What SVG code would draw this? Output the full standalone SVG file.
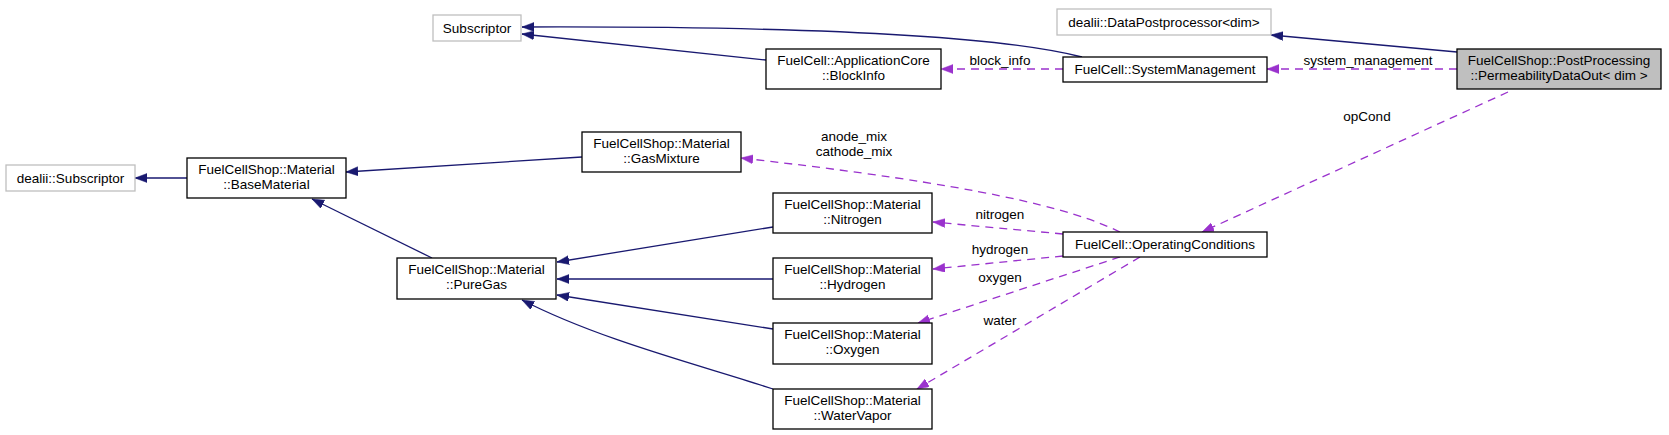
<svg xmlns="http://www.w3.org/2000/svg" width="1669" height="435" viewBox="0 0 1669 435">
<style>
  text { font-family: "Liberation Sans", Arial, sans-serif; font-size: 13.5px; fill: #000; text-anchor: middle; }
  .node rect { fill: #fff; stroke: #000; stroke-width: 1.3; }
  .node.ext rect { stroke: #bfbfbf; }
  .node.main rect { fill: #bfbfbf; }
  .inh { fill: none; stroke: #191970; stroke-width: 1.3; marker-end: url(#ab); }
  .use { fill: none; stroke: #9a32cd; stroke-width: 1.3; stroke-dasharray: 8,6; marker-end: url(#ap); }
</style>
<defs>
  <marker id="ab" markerUnits="userSpaceOnUse" markerWidth="13" markerHeight="10" refX="12" refY="4.5" orient="auto">
    <path d="M0,0 L12,4.5 L0,9 z" fill="#191970" stroke="#191970" stroke-width="0.5"/>
  </marker>
  <marker id="ap" markerUnits="userSpaceOnUse" markerWidth="13" markerHeight="10" refX="12" refY="4.5" orient="auto">
    <path d="M0,0 L12,4.5 L0,9 z" fill="#9a32cd" stroke="#9a32cd" stroke-width="0.5"/>
  </marker>
</defs>
<rect x="0" y="0" width="1669" height="435" fill="#fff"/>

<g id="edges">
  <path class="inh" d="M1082,57 C1000,36 820,26 522,27"/>
  <path class="inh" d="M766,60 L522,34"/>
  <path class="inh" d="M1457,52 L1271,35"/>
  <path class="inh" d="M187,178 L135,178"/>
  <path class="inh" d="M582,157 L346,172"/>
  <path class="inh" d="M432,258 L312,199"/>
  <path class="inh" d="M773,227 L557,262"/>
  <path class="inh" d="M773,279 L557,279"/>
  <path class="inh" d="M773,329 L557,295"/>
  <path class="inh" d="M773,389 C700,365 600,340 522,300"/>

  <path class="use" d="M1063,69 L941,69"/>
  <text x="1000" y="65">block_info</text>
  <path class="use" d="M1457,69 L1267,69"/>
  <text x="1368" y="65">system_management</text>
  <path class="use" d="M1508,92 L1202,232"/>
  <text x="1367" y="121">opCond</text>
  <path class="use" d="M1120,232 C1070,208 980,185 741,158"/>
  <text x="854" y="140.5">anode_mix</text>
  <text x="854" y="155.5">cathode_mix</text>
  <path class="use" d="M1063,234 L933,222"/>
  <text x="1000" y="219">nitrogen</text>
  <path class="use" d="M1063,256 L933,269"/>
  <text x="1000" y="254">hydrogen</text>
  <path class="use" d="M1120,257 L918,323"/>
  <text x="1000" y="282">oxygen</text>
  <path class="use" d="M1140,257 L917,389"/>
  <text x="1000" y="325">water</text>
</g>

<g id="n_subscriptor" class="node ext">
  <rect x="433" y="15" width="88" height="26"/>
  <text x="477" y="32.5">Subscriptor</text>
</g>
<g id="n_datapostprocessor" class="node ext">
  <rect x="1057" y="9" width="214" height="26"/>
  <text x="1164" y="26.5">dealii::DataPostprocessor&lt;dim&gt;</text>
</g>
<g id="n_blockinfo" class="node">
  <rect x="766" y="49" width="175" height="40"/>
  <text x="853.5" y="65">FuelCell::ApplicationCore</text>
  <text x="853.5" y="80">::BlockInfo</text>
</g>
<g id="n_systemmanagement" class="node">
  <rect x="1063" y="57" width="204" height="25"/>
  <text x="1165" y="74">FuelCell::SystemManagement</text>
</g>
<g id="n_permeability" class="node main">
  <rect x="1457" y="49" width="204" height="40"/>
  <text x="1559" y="65">FuelCellShop::PostProcessing</text>
  <text x="1559" y="80">::PermeabilityDataOut&lt; dim &gt;</text>
</g>
<g id="n_dealii_subscriptor" class="node ext">
  <rect x="6" y="165" width="129" height="26"/>
  <text x="70.5" y="182.5">dealii::Subscriptor</text>
</g>
<g id="n_basematerial" class="node">
  <rect x="187" y="158" width="159" height="40"/>
  <text x="266.5" y="174">FuelCellShop::Material</text>
  <text x="266.5" y="189">::BaseMaterial</text>
</g>
<g id="n_gasmixture" class="node">
  <rect x="582" y="132" width="159" height="40"/>
  <text x="661.5" y="148">FuelCellShop::Material</text>
  <text x="661.5" y="163">::GasMixture</text>
</g>
<g id="n_nitrogen" class="node">
  <rect x="773" y="193" width="159" height="40"/>
  <text x="852.5" y="209">FuelCellShop::Material</text>
  <text x="852.5" y="224">::Nitrogen</text>
</g>
<g id="n_operatingconditions" class="node">
  <rect x="1063" y="232" width="204" height="25"/>
  <text x="1165" y="249">FuelCell::OperatingConditions</text>
</g>
<g id="n_puregas" class="node">
  <rect x="397" y="258" width="159" height="41"/>
  <text x="476.5" y="274">FuelCellShop::Material</text>
  <text x="476.5" y="289">::PureGas</text>
</g>
<g id="n_hydrogen" class="node">
  <rect x="773" y="258" width="159" height="41"/>
  <text x="852.5" y="274">FuelCellShop::Material</text>
  <text x="852.5" y="289">::Hydrogen</text>
</g>
<g id="n_oxygen" class="node">
  <rect x="773" y="323" width="159" height="41"/>
  <text x="852.5" y="339">FuelCellShop::Material</text>
  <text x="852.5" y="354">::Oxygen</text>
</g>
<g id="n_watervapor" class="node">
  <rect x="773" y="389" width="159" height="40"/>
  <text x="852.5" y="405">FuelCellShop::Material</text>
  <text x="852.5" y="420">::WaterVapor</text>
</g>
</svg>
